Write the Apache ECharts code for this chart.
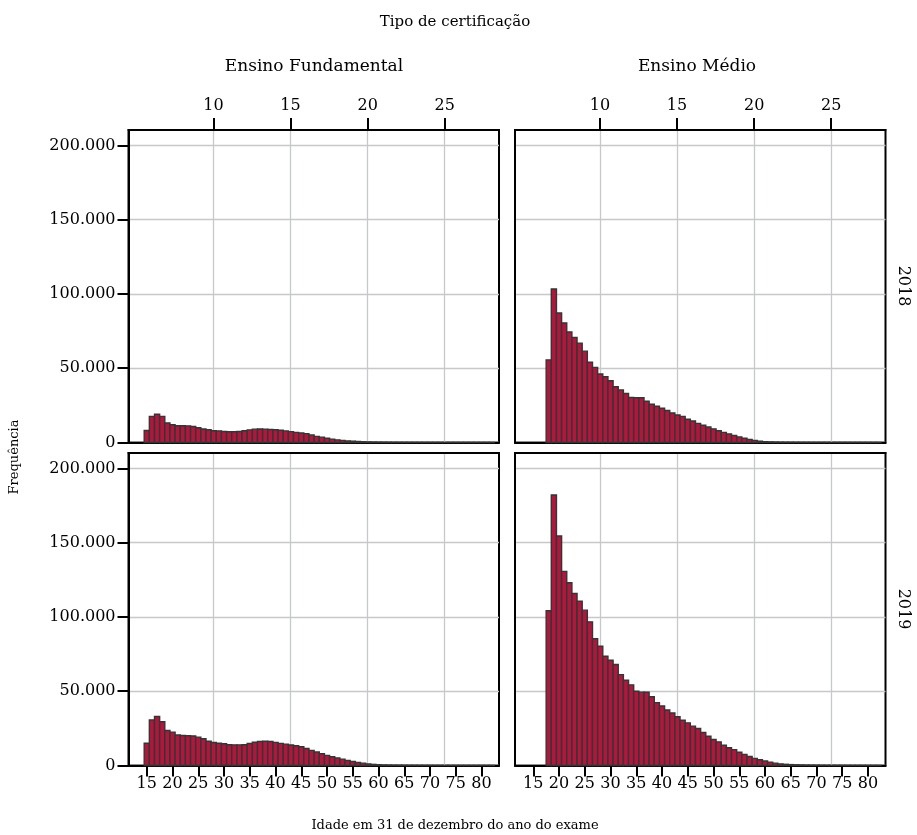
<!DOCTYPE html>
<html>
<head>
<meta charset="utf-8">
<script src="https://cdn.jsdelivr.net/npm/echarts@6/dist/echarts.min.js"></script>
<style>
html, body { margin: 0; padding: 0; background: #fff; }
#main { width: 917px; height: 835px; }
</style>
</head>
<body>
<div id="main"></div>
<script>
// idades (anos completos em 31/12)
var agesEF = [15,16,17,18,19,20,21,22,23,24,25,26,27,28,29,30,31,32,33,34,35,36,37,38,39,40,
  41,42,43,44,45,46,47,48,49,50,51,52,53,54,55,56,57,58,59,60,61,62,63,64,65,66,67,68,69,70,
  71,72,73,74,75,76,77,78,79,80,81,82];
var agesEM = [18,19,20,21,22,23,24,25,26,27,28,29,30,31,32,33,34,35,36,37,38,39,40,
  41,42,43,44,45,46,47,48,49,50,51,52,53,54,55,56,57,58,59,60,61,62,63,64,65,66,67,68,69,70,
  71,72,73,74,75,76,77,78,79,80,81,82];

// Ensino Fundamental
var ef2018 = [8100,17600,19000,17600,13100,12000,11300,11300,11200,10800,9900,9100,8600,7900,7800,7400,
  7200,7200,7400,7900,8500,9000,9100,9000,8800,8600,8200,7800,7300,6800,6400,6000,5000,4100,3600,2900,
  2300,1800,1400,1100,900,700,500,380,290,220,170,130,110,90,75,60,50,45,40,35,30,28,25,22,20,18,16,14,12,10,9,8];
var ef2019 = [15000,30600,33000,29500,23600,22500,20500,20200,20000,19900,19100,18000,16300,15500,15000,14600,
  14000,13900,13900,14000,14800,15700,16200,16300,16200,15600,14900,14400,13800,13300,12600,11400,10200,9100,
  7900,6800,5900,5000,4300,3400,2700,2000,1600,1100,750,500,350,260,200,160,130,105,85,70,60,50,45,40,35,30,
  27,24,21,18,16,14,12,10];

// Ensino Médio
var em2018 = [55600,103300,87200,80500,74400,70700,66900,61500,54000,50600,46100,44300,41600,37500,35300,33000,
  30300,30100,30100,27800,25800,24400,23100,21500,19900,18500,17600,15700,14500,12900,11600,10400,9200,7900,
  6800,5800,4700,3800,2900,2000,1400,900,550,380,270,200,150,120,95,80,65,55,45,40,35,30,26,23,20,18,16,14,12,10,9];
var em2019 = [104200,182100,154500,130700,123000,115800,110700,104600,96700,85300,80300,73600,70900,68000,61200,
  57400,54300,50000,49400,49300,46300,42300,40100,37400,35300,32800,30500,28700,26500,24900,22200,19700,17500,
  15900,13600,12000,10700,8900,7500,6100,4800,3900,3000,2300,1600,1100,800,600,450,350,260,200,160,130,110,90,
  75,60,50,40,35,30,25,20,15];

var ageTicks = [15,20,25,30,35,40,45,50,55,60,65,70,75,80];
var topTicks = [10,15,20,25];
var freqTicks = [0,50000,100000,150000,200000];

var FONT = '"DejaVu Serif", serif';
var FS = 16;

var panels = [
  {left: 128.5, top: 130, row: 0, col: 0, ages: agesEF, vals: ef2018},
  {left: 515,   top: 130, row: 0, col: 1, ages: agesEM, vals: em2018},
  {left: 128.5, top: 453, row: 1, col: 0, ages: agesEF, vals: ef2019},
  {left: 515,   top: 453, row: 1, col: 1, ages: agesEM, vals: em2019}
];

function milhar(v) {
  return String(v).replace(/\B(?=(\d{3})+(?!\d))/g, '.');
}

function renderBar(params, api) {
  var a = api.value(0), n = api.value(1);
  var p0 = api.coord([a - 0.5, n]);
  var p1 = api.coord([a + 0.5, 0]);
  return {
    type: 'rect',
    shape: {x: p0[0], y: p0[1], width: p1[0] - p0[0], height: p1[1] - p0[1]},
    style: {fill: '#b1163d', stroke: '#353535', lineWidth: 1.4}
  };
}

var blackLine = {show: true, onZero: false, lineStyle: {color: '#000', width: 2}};
var tickStyle = {color: '#000', width: 2};
var gridStyle = {color: '#c6c8cb', width: 1.3};
var labelBase = {color: '#000', fontFamily: FONT, fontSize: FS};

var grids = [], xAxes = [], yAxes = [], series = [];
panels.forEach(function (p, i) {
  grids.push({left: p.left, top: p.top, width: 370.5, height: 312.5,
    show: true, borderColor: '#000', borderWidth: 2, backgroundColor: 'transparent'});

  xAxes.push({
    gridIndex: i, type: 'value', position: 'bottom', min: 11.45, max: 83.4,
    axisLine: blackLine,
    axisTick: {show: p.row === 1, customValues: ageTicks, length: 11, lineStyle: tickStyle},
    axisLabel: Object.assign({show: p.row === 1, customValues: ageTicks, margin: 10}, labelBase),
    splitLine: {show: false}
  });
  xAxes.push({
    gridIndex: i, type: 'value', position: 'top', min: 4.49, max: 28.52,
    axisLine: blackLine,
    axisTick: {show: p.row === 0, customValues: topTicks, length: 12, lineStyle: tickStyle},
    axisLabel: Object.assign({show: p.row === 0, customValues: topTicks, margin: 16}, labelBase),
    splitLine: {show: true, lineStyle: gridStyle}
  });
  yAxes.push({
    gridIndex: i, type: 'value', min: 0, max: 210400,
    axisLine: blackLine,
    axisTick: {show: p.col === 0, customValues: freqTicks, length: 11, lineStyle: tickStyle},
    axisLabel: Object.assign({show: p.col === 0, customValues: freqTicks, margin: 13, formatter: milhar}, labelBase),
    splitLine: {show: true, lineStyle: gridStyle}
  });

  series.push({
    type: 'custom',
    xAxisIndex: 2 * i,
    yAxisIndex: i,
    silent: true,
    renderItem: renderBar,
    data: p.ages.map(function (a, k) { return [a, p.vals[k]]; })
  });
});

function txt(t, x, y, rot, size) {
  return {
    type: 'text', x: x, y: y, rotation: rot || 0, silent: true,
    style: {text: t, align: 'center', verticalAlign: 'middle',
      font: (size || FS) + 'px ' + FONT, fill: '#000'}
  };
}

var option = {
  backgroundColor: '#fff',
  animation: false,
  grid: grids,
  xAxis: xAxes,
  yAxis: yAxes,
  series: series,
  graphic: [
    txt('Tipo de certificação', 455, 22, 0, 15),
    txt('Ensino Fundamental', 314, 67, 0, 17),
    txt('Ensino Médio', 697, 67, 0, 17),
    txt('Frequência', 15, 457, Math.PI / 2, 13),
    txt('2018', 903, 286, -Math.PI / 2),
    txt('2019', 903, 609, -Math.PI / 2),
    txt('Idade em 31 de dezembro do ano do exame', 455, 826, 0, 13)
  ]
};

var myChart = echarts.init(document.getElementById('main'));
myChart.setOption(option);
</script>
</body>
</html>
